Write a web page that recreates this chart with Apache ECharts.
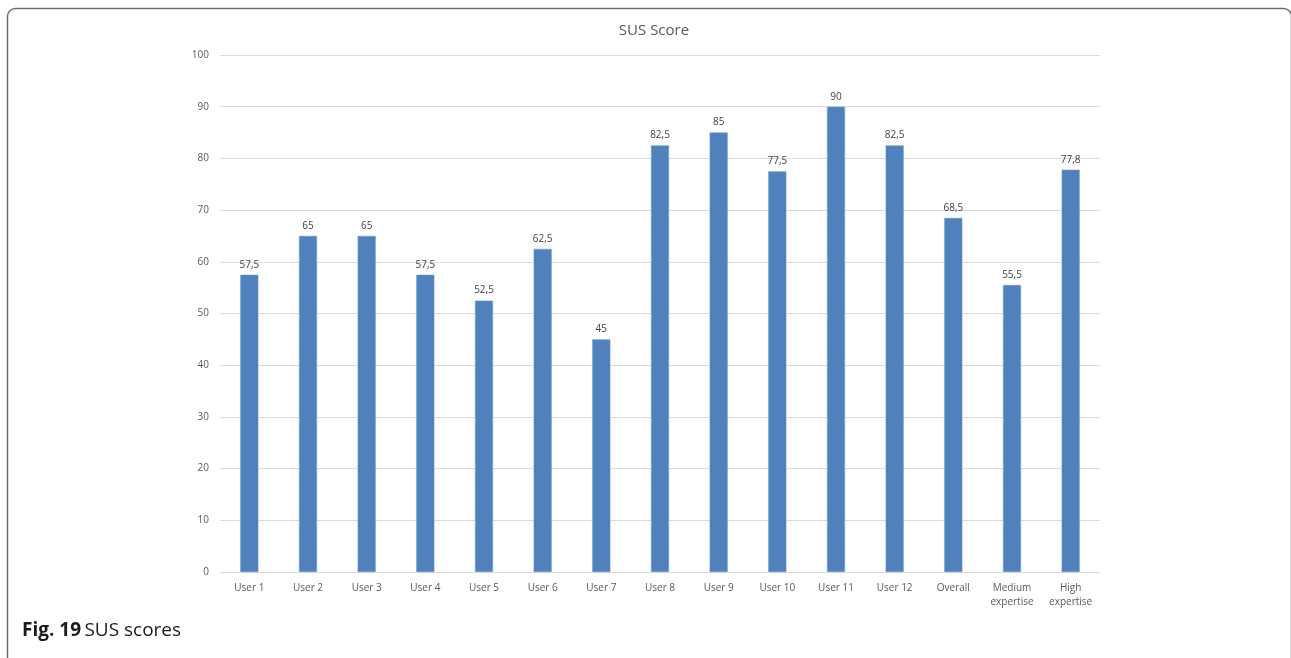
<!DOCTYPE html>
<html>
<head>
<meta charset="utf-8">
<title>SUS Score</title>
<script src="https://cdn.jsdelivr.net/npm/echarts@6/dist/echarts.min.js"></script>
<style>
  html, body { margin: 0; padding: 0; background: #fff; }
  #chart { width: 1291px; height: 658px; }
</style>
</head>
<body>
<div id="chart"></div>
<script>
// categories and SUS values
var categories = ['User 1', 'User 2', 'User 3', 'User 4', 'User 5', 'User 6', 'User 7',
  'User 8', 'User 9', 'User 10', 'User 11', 'User 12', 'Overall',
  'Medium\nexpertise', 'High\nexpertise']
var scores = [57.5, 65, 65, 57.5, 52.5, 62.5, 45, 82.5, 85, 77.5, 90, 82.5, 68.5, 55.5, 77.8]
var yTicks = { min: 0, max: 100, interval: 10 }

var chart = echarts.init(document.getElementById('chart'))

var option = {
  animation: false,
  title: {
    text: 'SUS Score',
    left: 649,
    top: 18,
    textAlign: 'center',
    textStyle: {
      fontFamily: 'Open Sans',
      fontSize: 15,
      fontWeight: 'normal',
      color: '#595959'
    }
  },
  grid: {
    left: 220,
    right: 191,
    top: 55,
    bottom: 86
  },
  xAxis: {
    type: 'category',
    data: categories,
    axisTick: { show: false },
    axisLine: { lineStyle: { color: '#d9d9d9', width: 1 } },
    axisLabel: {
      color: '#595959',
      fontFamily: 'Open Sans',
      fontSize: 10,
      lineHeight: 14,
      margin: 9,
      interval: 0
    }
  },
  yAxis: {
    type: 'value',
    min: yTicks.min,
    max: yTicks.max,
    interval: yTicks.interval,
    axisLine: { show: false },
    axisTick: { show: false },
    splitLine: { lineStyle: { color: '#d9d9d9', width: 1 } },
    axisLabel: {
      color: '#595959',
      fontFamily: 'Open Sans',
      fontSize: 10,
      margin: 11
    }
  },
  series: [
    {
      name: 'SUS Score',
      type: 'bar',
      data: scores,
      barWidth: 18,
      itemStyle: {
        color: '#4f81bd',
        borderColor: '#6a96cb',
        borderWidth: 0.6
      },
      label: {
        show: true,
        position: 'top',
        distance: 5,
        color: '#404040',
        fontFamily: 'Open Sans',
        fontSize: 10,
        formatter: function (p) {
          return String(p.value).replace('.', ',')
        }
      }
    }
  ],
  graphic: [
    {
      type: 'rect',
      left: 5,
      top: 6,
      z: -1,
      shape: { width: 1284, height: 662, r: 8 },
      style: { fill: 'none', stroke: '#6b6b6b', lineWidth: 1.5 }
    },
    {
      type: 'text',
      left: 22,
      top: 621,
      style: {
        text: '{b|Fig. 19} {n|SUS scores}',
        rich: {
          b: { fontFamily: 'Open Sans', fontSize: 19, fontWeight: 'bold', fill: '#1a1a1a' },
          n: { fontFamily: 'Open Sans', fontSize: 19, fill: '#1a1a1a' }
        }
      }
    }
  ]
}

chart.setOption(option)
</script>
</body>
</html>
